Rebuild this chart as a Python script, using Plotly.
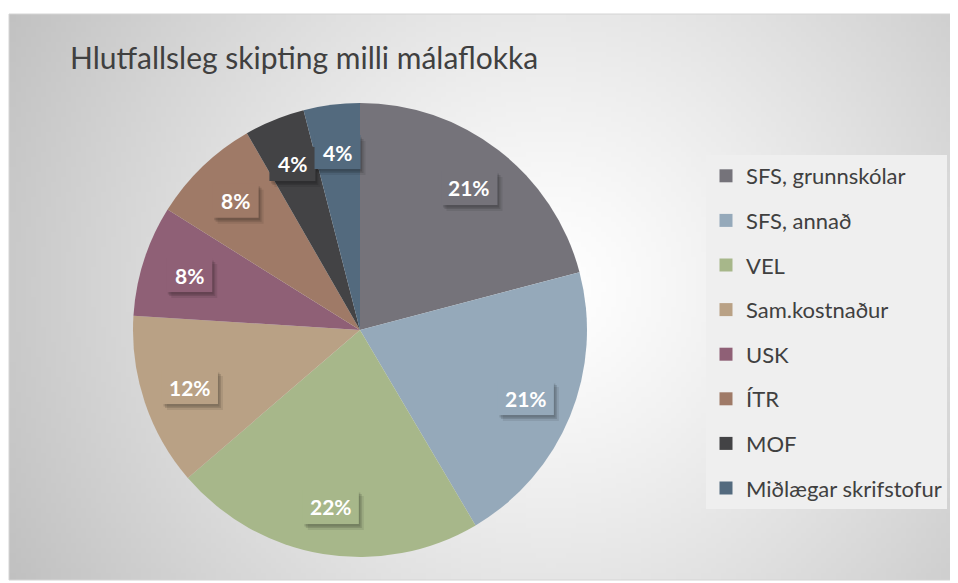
import base64
import math
import struct
import zlib

import plotly.graph_objects as go

# síðan hefur 8px spássíu, myndin sjálf er því minni en glugginn
W, H = 950, 575

# gögn lesin af myndinni
categories = ['SFS, grunnskólar', 'SFS, annað', 'VEL', 'Sam.kostnaður',
              'USK', 'ÍTR', 'MOF', 'Miðlægar skrifstofur']
shares = [20.9, 20.6, 22.2, 12.3, 7.9, 7.8, 4.3, 4.0]
colors = ['#75737a', '#95a9ba', '#a7b78a', '#b9a185',
          '#8f6076', '#9f7a67', '#434345', '#536a7e']

title_text = 'Hlutfallsleg skipting milli málaflokka'


def gradient_png(w, h, cx, cy, lo=192):
    """Radial gradient (white centre -> grey edges) as a data uri png."""
    dmax = max(((x - cx) ** 2 + (y - cy) ** 2) ** 0.5
               for x in (0, w) for y in (0, h))
    rows = []
    for y in range(h):
        row = bytearray(b'\x00')
        for x in range(w):
            d = ((x - cx) ** 2 + (y - cy) ** 2) ** 0.5 / dmax
            v = int(round(255 - (255 - lo) * d ** 1.2))
            row += bytes((v, v, v))
        rows.append(bytes(row))
    raw = b''.join(rows)

    def chunk(tag, data):
        c = struct.pack('>I', len(data)) + tag + data
        return c + struct.pack('>I', zlib.crc32(tag + data) & 0xffffffff)

    png = (b'\x89PNG\r\n\x1a\n'
           + chunk(b'IHDR', struct.pack('>IIBBBBB', w, h, 8, 2, 0, 0, 0))
           + chunk(b'IDAT', zlib.compress(raw, 9))
           + chunk(b'IEND', b''))
    return 'data:image/png;base64,' + base64.b64encode(png).decode()


def px_rect(x0, y0, x1, y1, **kw):
    """Rectangle given in pixels (from top-left) as a paper shape."""
    return dict(type='rect', xref='paper', yref='paper',
                x0=x0 / W, x1=x1 / W, y0=1 - y1 / H, y1=1 - y0 / H, **kw)


# ramminn um myndina (pixlar)
box_l, box_t, box_r, box_b = 1, 6, 950, 572
bg = gradient_png(190, 113, 108, 54)

# kakan: miðja og radíus í pixlum
pie_cx, pie_cy, pie_r = 352, 322, 227

fig = go.Figure()

fig.add_trace(go.Pie(
    labels=categories,
    values=shares,
    sort=False,
    direction='clockwise',
    rotation=0,
    marker=dict(colors=colors, line=dict(width=0)),
    textinfo='none',
    showlegend=False,
    domain=dict(x=[(pie_cx - pie_r) / W, (pie_cx + pie_r) / W],
                y=[1 - (pie_cy + pie_r) / H, 1 - (pie_cy - pie_r) / H]),
    hoverinfo='label+percent',
))

# skýringar (legend) sem sér færslur svo bilið milli þeirra passi
for name, col in zip(categories, colors):
    fig.add_trace(go.Scatter(
        x=[None], y=[None], mode='markers', name=name, legendgroup=name,
        marker=dict(symbol='square', size=13, color=col),
        hoverinfo='skip',
    ))

# prósentumerki með kassa og skugga
shadows, boxes, annotations = [], [], []
total = sum(shares)
cum = 0
for share, col in zip(shares, colors):
    theta = 2 * math.pi * (cum + share / 2) / total
    cum += share
    px = pie_cx + 0.79 * pie_r * math.sin(theta)
    py = pie_cy - 0.79 * pie_r * math.cos(theta)
    label = f'{round(100 * share / total)}%'
    hw, hh = (10 * len(label) + 26) / 2, 17
    for d, shade in ((5, 'rgba(0,0,0,0.08)'), (3, 'rgba(0,0,0,0.12)'), (1.5, 'rgba(0,0,0,0.12)')):
        shadows.append(px_rect(px - hw + d, py - hh + d + 1, px + hw + d, py + hh + d + 1,
                               fillcolor=shade, line=dict(width=0), layer='above'))
    boxes.append(px_rect(px - hw, py - hh, px + hw, py + hh,
                         fillcolor=col, line=dict(width=0), layer='above'))
    annotations.append(dict(
        x=px / W, y=1 - py / H, xref='paper', yref='paper',
        xanchor='center', yanchor='middle',
        text=f'<b>{label}</b>', showarrow=False,
        font=dict(family='Lato', size=21, color='white'),
    ))

frame = px_rect(box_l, box_t, box_r, box_b, line=dict(color='#d4d4d4', width=1), layer='below')

fig.update_layout(
    width=W,
    height=H,
    margin=dict(l=0, r=0, t=0, b=0),
    paper_bgcolor='white',
    plot_bgcolor='rgba(0,0,0,0)',
    font=dict(family='Lato', color='#404040'),
    xaxis=dict(visible=False),
    yaxis=dict(visible=False),
    title=dict(text=title_text, x=62 / W, xanchor='left', y=1 - 50 / H, yanchor='middle',
               font=dict(family='Lato', size=30, color='#404040')),
    legend=dict(
        x=698 / W, y=1 - 147 / H, xanchor='left', yanchor='top',
        bgcolor='#efefef',
        font=dict(family='Lato', size=22, color='#404040'),
        tracegroupgap=13,
        itemclick=False, itemdoubleclick=False,
    ),
    annotations=annotations,
    images=[dict(source=bg, xref='paper', yref='paper',
                 x=box_l / W, y=1 - box_t / H,
                 sizex=(box_r - box_l) / W, sizey=(box_b - box_t) / H,
                 sizing='stretch', layer='below')],
    shapes=[frame] + shadows + boxes,
)

fig.write_html('out.html')
